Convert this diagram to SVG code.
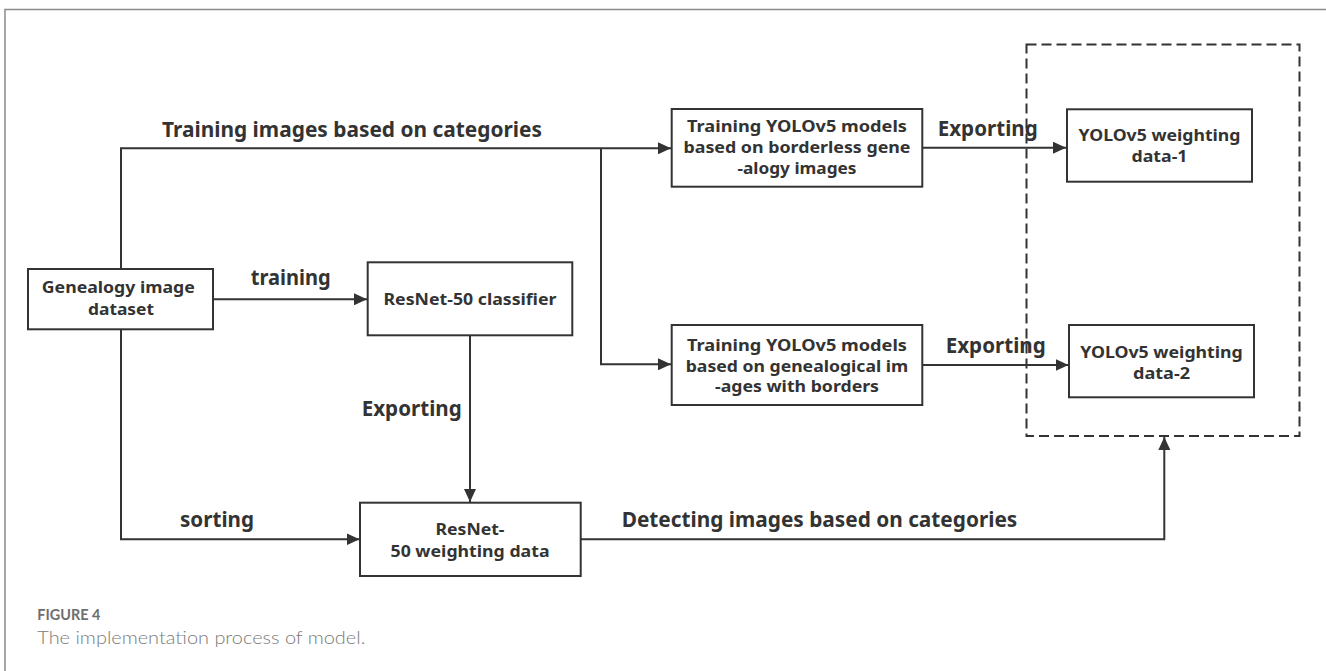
<svg xmlns="http://www.w3.org/2000/svg" width="1326" height="671" viewBox="0 0 1326 671">
<style>
.box{fill:#fff;stroke:#333;stroke-width:2}
.ln{fill:none;stroke:#333;stroke-width:2}
.lbl{font-family:"Noto Sans","Open Sans","Liberation Sans",sans-serif;font-weight:bold;font-size:21px;fill:#333}
.bt{font-family:"Noto Sans","Open Sans","Liberation Sans",sans-serif;font-weight:bold;font-size:16.5px;fill:#333;text-anchor:middle}
.cap1{font-family:"Lato","Noto Sans","Liberation Sans",sans-serif;font-weight:bold;font-size:14.5px;fill:#6e6e6e}
.cap2{font-family:"Lato","Noto Sans","Liberation Sans",sans-serif;font-weight:300;font-size:18.5px;fill:#7a7a7a}
</style>
<defs>
<marker id="ah" markerUnits="userSpaceOnUse" markerWidth="14" markerHeight="12" refX="13" refY="6" orient="auto">
<path d="M0,0 L13,6 L0,12 Z" fill="#333"/>
</marker>
</defs>
<rect width="1326" height="671" fill="#fff"/>
<path d="M5,671 V9.5 H1326" fill="none" stroke="#8a8a8a" stroke-width="1.5"/>

<g id="group-dashed">
<rect x="1026.5" y="44.5" width="273" height="391.5" fill="none" stroke="#333" stroke-width="2" stroke-dasharray="10,5"/>
</g>

<g id="connectors">
<path class="ln" d="M121,269 V148.3 H671" marker-end="url(#ah)"/>
<path class="ln" d="M601,148.3 V364.3 H671" marker-end="url(#ah)"/>
<path class="ln" d="M213,299.3 H367" marker-end="url(#ah)"/>
<path class="ln" d="M121,329 V539.3 H359.5" marker-end="url(#ah)"/>
<path class="ln" d="M470,335.3 V502" marker-end="url(#ah)"/>
<path class="ln" d="M922.3,147.7 H1066" marker-end="url(#ah)"/>
<path class="ln" d="M922.3,365 H1068.5" marker-end="url(#ah)"/>
<path class="ln" d="M580.7,539.3 H1164.3 V437" marker-end="url(#ah)"/>
<text class="lbl" x="162" y="136.7" textLength="380" lengthAdjust="spacingAndGlyphs">Training images based on categories</text>
<text class="lbl" x="250.7" y="285" textLength="80" lengthAdjust="spacingAndGlyphs">training</text>
<text class="lbl" x="361.7" y="416" textLength="100" lengthAdjust="spacingAndGlyphs">Exporting</text>
<text class="lbl" x="180" y="526.7" textLength="74" lengthAdjust="spacingAndGlyphs">sorting</text>
<text class="lbl" x="937.7" y="136" textLength="100" lengthAdjust="spacingAndGlyphs">Exporting</text>
<text class="lbl" x="945.7" y="353.3" textLength="100" lengthAdjust="spacingAndGlyphs">Exporting</text>
<text class="lbl" x="621.7" y="526.7" textLength="395.6" lengthAdjust="spacingAndGlyphs">Detecting images based on categories</text>
</g>

<g id="node-genealogy">
<rect class="box" x="28" y="269" width="185" height="60.3"/>
<text class="bt" x="118.3" y="293" textLength="153" lengthAdjust="spacingAndGlyphs">Genealogy image</text>
<text class="bt" x="121" y="315" textLength="66" lengthAdjust="spacingAndGlyphs">dataset</text>
</g>

<g id="node-resnet-classifier">
<rect class="box" x="367.7" y="262.3" width="204.6" height="73"/>
<text class="bt" x="470" y="305" textLength="173" lengthAdjust="spacingAndGlyphs">ResNet-50 classifier</text>
</g>

<g id="node-resnet-weights">
<rect class="box" x="360" y="502.7" width="220.7" height="73.3"/>
<text class="bt" x="470" y="535" textLength="69" lengthAdjust="spacingAndGlyphs">ResNet-</text>
<text class="bt" x="470" y="556.7" textLength="159" lengthAdjust="spacingAndGlyphs">50 weighting data</text>
</g>

<g id="node-yolo-borderless">
<rect class="box" x="671.7" y="109" width="250.6" height="77.7"/>
<text class="bt" x="797" y="132.3" textLength="220" lengthAdjust="spacingAndGlyphs">Training YOLOv5 models</text>
<text class="bt" x="797" y="153.3" textLength="227" lengthAdjust="spacingAndGlyphs">based on borderless gene</text>
<text class="bt" x="797" y="174" textLength="119" lengthAdjust="spacingAndGlyphs">-alogy images</text>
</g>

<g id="node-yolo-borders">
<rect class="box" x="671.7" y="325" width="250.6" height="80"/>
<text class="bt" x="797" y="350.5" textLength="220" lengthAdjust="spacingAndGlyphs">Training YOLOv5 models</text>
<text class="bt" x="797" y="371.7" textLength="222.6" lengthAdjust="spacingAndGlyphs">based on genealogical im</text>
<text class="bt" x="797" y="392.3" textLength="164" lengthAdjust="spacingAndGlyphs">-ages with borders</text>
</g>

<g id="node-yolo-data1">
<rect class="box" x="1067" y="109.3" width="185" height="72.4"/>
<text class="bt" x="1159.5" y="141" textLength="162" lengthAdjust="spacingAndGlyphs">YOLOv5 weighting</text>
<text class="bt" x="1159.5" y="162" textLength="56" lengthAdjust="spacingAndGlyphs">data-1</text>
</g>

<g id="node-yolo-data2">
<rect class="box" x="1069" y="325" width="185" height="72.3"/>
<text class="bt" x="1161.5" y="357.5" textLength="162.7" lengthAdjust="spacingAndGlyphs">YOLOv5 weighting</text>
<text class="bt" x="1161.5" y="379" textLength="57" lengthAdjust="spacingAndGlyphs">data-2</text>
</g>

<g id="caption">
<text class="cap1" x="37.3" y="620" textLength="63" lengthAdjust="spacingAndGlyphs">FIGURE 4</text>
<text class="cap2" x="37.3" y="644" textLength="328" lengthAdjust="spacingAndGlyphs">The implementation process of model.</text>
</g>
</svg>
